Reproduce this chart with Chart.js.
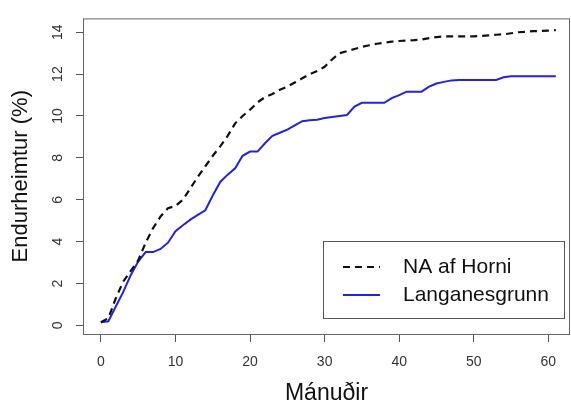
<!DOCTYPE html>
<html lang="is">
<head>
<meta charset="utf-8">
<title>Endurheimtur</title>
<script src="https://cdn.jsdelivr.net/npm/chart.js@4/dist/chart.umd.min.js"></script>
<style>
  html, body { margin: 0; padding: 0; background: #fff; overflow: hidden; }
  canvas { display: block; }
</style>
</head>
<body>
<canvas id="recapture" width="571" height="403"></canvas>
<script>
// Months since tagging
const months = [
  0, 1, 2, 3, 4, 5, 6, 7, 8, 9, 10, 11, 12, 13, 14, 15, 16, 17, 18, 19, 20,
  21, 22, 23, 24, 25, 26, 27, 28, 29, 30, 31, 32, 33, 34, 35, 36, 37, 38, 39, 40,
  41, 42, 43, 44, 45, 46, 47, 48, 49, 50, 51, 52, 53, 54, 55, 56, 57, 58, 59, 60, 61
];

// Cumulative recapture rate (%)
const naAfHorni = [
  0.15, 0.35, 1.3, 2.1, 2.6, 3.1, 3.95, 4.65, 5.2, 5.6, 5.7,
  6.0, 6.55, 7.1, 7.6, 8.1, 8.55, 9.05, 9.65, 10.0, 10.3,
  10.65, 10.9, 11.05, 11.25, 11.4, 11.6, 11.8, 12.0, 12.15, 12.35,
  12.7, 13.0, 13.1, 13.2, 13.3, 13.38, 13.45, 13.5, 13.55, 13.58,
  13.6, 13.62, 13.65, 13.72, 13.77, 13.8, 13.8, 13.8, 13.8, 13.8,
  13.82, 13.85, 13.88, 13.9, 13.95, 14.0, 14.02, 14.05, 14.06, 14.08, 14.1
];
const langanesgrunn = [
  0.15, 0.2, 0.9, 1.6, 2.4, 3.05, 3.5, 3.5, 3.65, 3.95, 4.5,
  4.78, 5.05, 5.28, 5.5, 6.2, 6.85, 7.2, 7.5, 8.1, 8.3,
  8.3, 8.7, 9.05, 9.2, 9.35, 9.55, 9.75, 9.8, 9.82, 9.9,
  9.95, 10.0, 10.05, 10.45, 10.63, 10.63, 10.63, 10.63, 10.85, 11.0,
  11.16, 11.16, 11.16, 11.4, 11.55, 11.63, 11.7, 11.72, 11.72, 11.72,
  11.72, 11.72, 11.72, 11.85, 11.9, 11.9, 11.9, 11.9, 11.9, 11.9, 11.9
];

const xTicks = [0, 10, 20, 30, 40, 50, 60];
const yTicks = [0, 2, 4, 6, 8, 10, 12, 14];

const FONT = '"Liberation Sans", Arial, Helvetica, sans-serif';

// box() around the plot region
const frame = {
  id: 'frame',
  afterDatasetsDraw(chart) {
    const { ctx, chartArea: a } = chart;
    ctx.save();
    ctx.strokeStyle = '#666';
    ctx.lineWidth = 1;
    ctx.strokeRect(a.left + 0.5, a.top + 0.5, a.right - a.left - 1, a.bottom - a.top);
    ctx.restore();
  }
};

// legend("bottomright") style box with line samples
const boxLegend = {
  id: 'boxLegend',
  afterDraw(chart, args, opts) {
    const { ctx, chartArea: a } = chart;
    const x0 = a.right - opts.right - opts.width;
    const y0 = a.bottom - opts.bottom - opts.height;
    ctx.save();
    ctx.fillStyle = '#fff';
    ctx.fillRect(x0, y0, opts.width, opts.height);
    ctx.strokeStyle = '#555';
    ctx.lineWidth = 1;
    ctx.strokeRect(x0 + 0.5, y0 + 0.5, opts.width, opts.height);

    ctx.font = opts.fontSize + 'px ' + FONT;
    ctx.textBaseline = 'middle';
    chart.data.datasets.forEach((ds, i) => {
      const y = y0 + opts.firstRow + i * opts.rowGap;
      ctx.beginPath();
      ctx.strokeStyle = ds.borderColor;
      ctx.lineWidth = ds.borderWidth;
      ctx.setLineDash(ds.borderDash || []);
      ctx.moveTo(x0 + opts.lineStart, y);
      ctx.lineTo(x0 + opts.lineEnd, y);
      ctx.stroke();
      ctx.setLineDash([]);
      ctx.fillStyle = '#111';
      ctx.fillText(ds.label, x0 + opts.textStart, y);
    });
    ctx.restore();
  }
};

new Chart(document.getElementById('recapture'), {
  type: 'line',
  data: {
    labels: months,
    datasets: [
      {
        label: 'NA af Horni',
        data: naAfHorni,
        borderColor: '#111',
        borderWidth: 2.2,
        borderDash: [7, 5],
        pointRadius: 0,
        tension: 0,
        fill: false
      },
      {
        label: 'Langanesgrunn',
        data: langanesgrunn,
        borderColor: '#2222e6',
        borderWidth: 2,
        pointRadius: 0,
        tension: 0,
        fill: false
      }
    ]
  },
  options: {
    responsive: false,
    animation: false,
    devicePixelRatio: 1,
    layout: { padding: { left: 0, top: 12, right: 1, bottom: 0 } },
    plugins: {
      legend: { display: false },
      tooltip: { enabled: false },
      boxLegend: {
        right: 6, bottom: 16, width: 241, height: 77,
        firstRow: 26, rowGap: 28, lineStart: 20, lineEnd: 57, textStart: 80,
        fontSize: 21
      }
    },
    scales: {
      x: {
        type: 'linear',
        min: -2.4,
        max: 62.9,
        afterBuildTicks: s => { s.ticks = xTicks.map(v => ({ value: v })); },
        afterFit: s => { s.height = 69; },
        border: { display: false },
        grid: { drawOnChartArea: false, drawTicks: true, tickLength: 8, color: '#555' },
        ticks: {
          color: '#333',
          font: { family: FONT, size: 14 },
          padding: 12,
          maxRotation: 0
        },
        title: {
          display: true,
          text: 'Mánuðir',
          color: '#111',
          font: { family: FONT, size: 23, lineHeight: 1 },
          padding: { top: 0, bottom: -2 }
        }
      },
      y: {
        type: 'linear',
        min: -0.41,
        max: 14.66,
        afterBuildTicks: s => { s.ticks = yTicks.map(v => ({ value: v })); },
        afterFit: s => { s.width = 83; },
        border: { display: false },
        grid: { drawOnChartArea: false, drawTicks: true, tickLength: 7, color: '#555' },
        ticks: {
          color: '#333',
          font: { family: FONT, size: 14 },
          padding: 10,
          minRotation: 90,
          maxRotation: 90,
          crossAlign: 'center'
        },
        title: {
          display: true,
          text: 'Endurheimtur (%)',
          color: '#111',
          font: { family: FONT, size: 22, lineHeight: 1 },
          padding: { top: 10, bottom: 0 }
        }
      }
    }
  },
  plugins: [frame, boxLegend]
});
</script>
</body>
</html>
